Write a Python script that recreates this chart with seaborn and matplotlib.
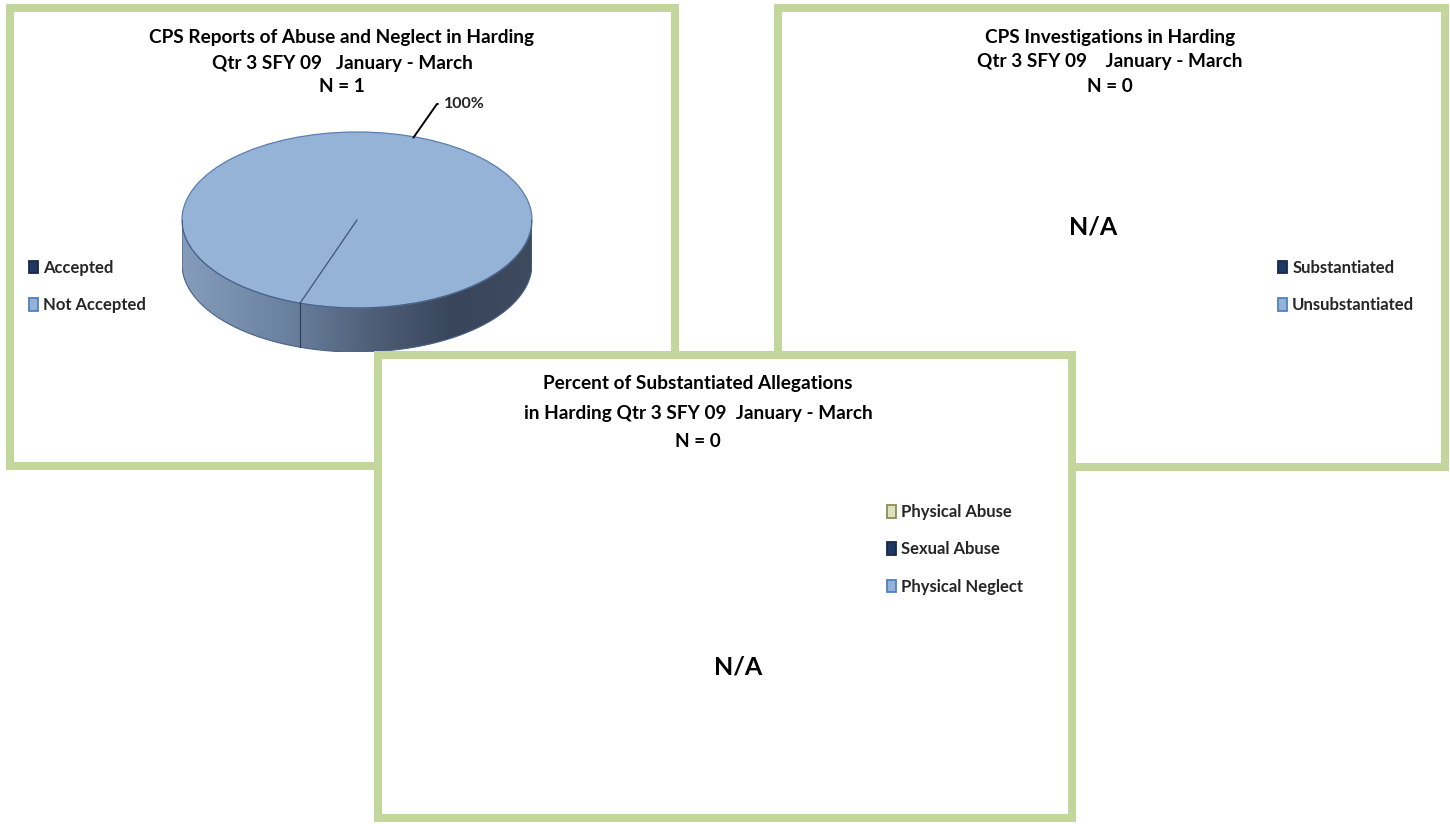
import numpy as np
import matplotlib
matplotlib.use("Agg")
import matplotlib.pyplot as plt
from matplotlib.patches import Patch, Polygon
from matplotlib.colors import LinearSegmentedColormap
import seaborn as sns

# Data
report_labels = ['Accepted', 'Not Accepted']
report_counts = [0, 1]
invest_labels = ['Substantiated', 'Unsubstantiated']
invest_counts = [0, 0]
alleg_labels = ['Physical Abuse', 'Sexual Abuse', 'Physical Neglect']
alleg_counts = [0, 0, 0]

report_title = ['CPS Reports of Abuse and Neglect in Harding', 'Qtr 3 SFY 09   January - March']
invest_title = ['CPS Investigations in Harding', 'Qtr 3 SFY 09    January - March']
alleg_title = ['Percent of Substantiated Allegations', 'in Harding Qtr 3 SFY 09  January - March']

report_colors = ['#1f3864', '#95b3d7']
report_edges = ['#17294a', '#4f81bd']
invest_colors = ['#1f3864', '#95b3d7']
invest_edges = ['#17294a', '#4f81bd']
alleg_colors = ['#d7e4bd', '#1f3864', '#95b3d7']
alleg_edges = ['#948a54', '#17294a', '#4f81bd']

sns.set_theme(style='white')
plt.rcParams['font.family'] = ['Lato', 'DejaVu Sans']

W, H = 1450, 824
fig = plt.figure(figsize=(W / 100, H / 100), dpi=100)
fig.patch.set_facecolor('white')
GREEN = '#c3d69b'


def panel(x0, y0, x1, y1, z):
    # axes in pixel units (y downward) with a thick green frame
    ax = fig.add_axes([x0 / W, 1 - y1 / H, (x1 - x0) / W, (y1 - y0) / H])
    ax.set_xlim(x0, x1)
    ax.set_ylim(y1, y0)
    ax.set_zorder(z)
    ax.set_facecolor('white')
    ax.set_xticks([])
    ax.set_yticks([])
    for s in ax.spines.values():
        s.set_color(GREEN)
        s.set_linewidth(5.76)
        s.set_visible(True)
    return ax


def titles(ax, lines, cx, ys, size=13.7):
    for line, y in zip(lines, ys):
        ax.text(cx, y, line, ha='center', va='center', fontsize=size,
                fontweight='bold', color='black')


def legend(ax, labels, colors, edges, x, y, spacing=1.3):
    handles = [Patch(facecolor=c, edgecolor=e, linewidth=1.3) for c, e in zip(colors, edges)]
    ax.legend(handles, labels, loc='center left', bbox_to_anchor=(x, y),
              bbox_transform=ax.transData, frameon=False,
              prop={'weight': 'bold', 'size': 12},
              handlelength=0.55, handleheight=0.8, handletextpad=0.3,
              labelspacing=spacing, borderpad=0, borderaxespad=0)


# Panel 1: reports
ax1 = panel(10, 8, 675, 466, 0)
n1 = sum(report_counts)
titles(ax1, report_title + [f'N = {n1}'], 342, [37, 63, 86])
legend(ax1, report_labels, report_colors, report_edges, 29, 286.5)

# 3D-looking pie
pax = fig.add_axes([182 / W, 1 - 352 / H, 350 / W, 220 / H])
pax.set_zorder(1)
depth = 0.5
wedges, _ = pax.pie(report_counts, colors=report_colors, startangle=251,
                    counterclock=False, radius=1, center=(0, 0),
                    wedgeprops=dict(edgecolor='#5a7fb0', linewidth=0.9))
pax.set_aspect('auto')
pax.axis('off')
pax.patch.set_alpha(0)

# slice boundary on the top face
ang = np.deg2rad(wedges[0].theta1)
sx, sy = np.cos(ang), np.sin(ang)
pax.plot([0, sx], [0, sy], color='#3d5579', lw=0.9, zorder=3)

t = np.linspace(np.pi, 2 * np.pi, 300)
top = np.column_stack([np.cos(t), np.sin(t)])
bot = np.column_stack([np.cos(t), np.sin(t) - depth])
side = Polygon(np.vstack([top, bot[::-1]]), closed=True, facecolor='none',
               edgecolor='#4a6186', linewidth=0.8)
pax.add_patch(side)
cmap = LinearSegmentedColormap.from_list(
    'side', [(0, '#869cbc'), (0.3, '#6a819f'), (0.55, '#4e5e77'),
             (0.78, '#38455a'), (1, '#3e4b5f')])
grad = np.linspace(0, 1, 256).reshape(1, -1)
im = pax.imshow(grad, cmap=cmap, extent=(-1, 1, -1 - depth, 0), aspect='auto',
                zorder=0.5, interpolation='bilinear')
im.set_clip_path(side)
pax.set_xlim(-1, 1)
pax.set_ylim(-1 - depth, 1)

# slice edge on the side wall
pax.plot([sx, sx], [sy, sy - depth], color='#2f405a', lw=0.9, zorder=3)

# percentage label
for w, c in zip(wedges, report_counts):
    if c == 0:
        continue
    mid = np.deg2rad((w.theta1 + w.theta2) / 2)
    pct = c / n1 * 100
    pax.annotate(f'{pct:.0f}%', xy=(np.cos(mid) * 0.99, np.sin(mid) * 0.99),
                 xytext=(444, H - 104), textcoords='figure pixels',
                 ha='left', va='center', fontsize=11.5, fontweight='bold',
                 annotation_clip=False,
                 arrowprops=dict(arrowstyle='-', color='black', lw=1.4,
                                 shrinkA=2, shrinkB=0, relpos=(0, 0.5),
                                 connectionstyle='angle,angleA=0,angleB=55,rad=0'))

# Panel 2: investigations
ax2 = panel(778, 8, 1445, 467, 0)
n2 = sum(invest_counts)
titles(ax2, invest_title + [f'N = {n2}'], 1110, [37, 62, 86])
legend(ax2, invest_labels, invest_colors, invest_edges, 1278, 286.5)
if n2 == 0:
    ax2.text(1093, 227, 'N/A', ha='center', va='center', fontsize=18,
             fontweight='bold', color='black')

# Panel 3: allegations
ax3 = panel(378, 355, 1072, 818, 2)
n3 = sum(alleg_counts)
titles(ax3, alleg_title + [f'N = {n3}'], 698, [384, 414, 442])
legend(ax3, alleg_labels, alleg_colors, alleg_edges, 887, 549.5, spacing=1.27)
if n3 == 0:
    ax3.text(738, 667, 'N/A', ha='center', va='center', fontsize=18,
             fontweight='bold', color='black')

fig.savefig('out.png', dpi=100, facecolor='white')
